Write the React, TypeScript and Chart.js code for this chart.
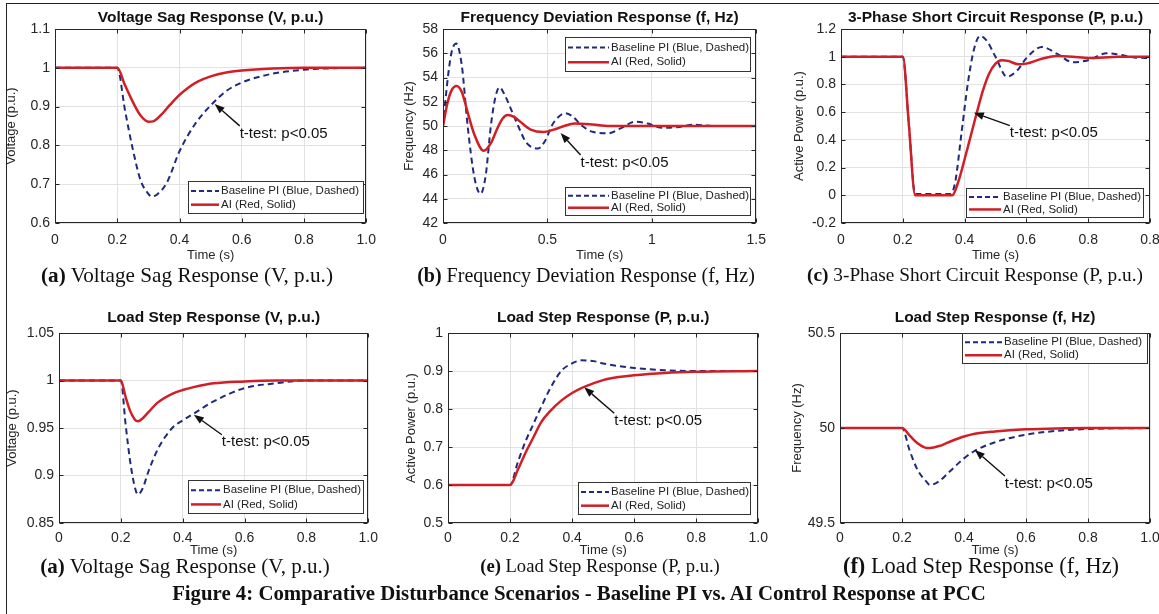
import React, { useEffect, useRef } from "react";
import { Chart, registerables } from "chart.js";
Chart.register(...registerables);

const SANS = '"Liberation Sans", Arial, Helvetica, sans-serif';
const SERIF = '"Liberation Serif", "Times New Roman", Times, serif';
const BLUE = "#1f2b7a";
const RED = "#d01f26";
const INK = "#262626";

// ---------- (a) Voltage sag ----------
const tBlueA = [0, 0.2, 0.225, 0.25, 0.275, 0.3, 0.31, 0.33, 0.36, 0.4, 0.45, 0.5, 0.55, 0.6, 0.7, 0.8, 0.9, 1.0];
const blueA = [1, 1, 0.89, 0.79, 0.71, 0.675, 0.668, 0.675, 0.705, 0.785, 0.855, 0.903, 0.94, 0.962, 0.985, 0.995, 0.999, 1];
const tRedA = [0, 0.2, 0.225, 0.25, 0.275, 0.3, 0.315, 0.34, 0.37, 0.4, 0.43, 0.46, 0.5, 0.55, 0.6, 0.7, 0.8, 1.0];
const redA = [1, 1, 0.955, 0.912, 0.877, 0.861, 0.862, 0.878, 0.905, 0.93, 0.95, 0.965, 0.978, 0.988, 0.993, 0.998, 1, 1];

// ---------- (b) Frequency deviation ----------
const tBlueB = [0, 0.02, 0.04, 0.063, 0.09, 0.118, 0.15, 0.18, 0.205, 0.229, 0.25, 0.27, 0.3, 0.33, 0.36, 0.4, 0.455, 0.49, 0.52, 0.55, 0.585, 0.62, 0.66, 0.72, 0.79, 0.85, 0.92, 0.98, 1.05, 1.12, 1.2, 1.3, 1.5];
const blueB = [50, 53.5, 56.0, 56.8, 55.0, 50.0, 45.8, 44.4, 46.0, 50.0, 52.3, 53.2, 52.4, 51.2, 50.0, 48.6, 48.15, 48.8, 50.0, 50.7, 51.05, 50.8, 50.1, 49.5, 49.4, 49.8, 50.35, 50.2, 49.85, 49.9, 50.1, 50.0, 50.0];
const tRedB = [0, 0.02, 0.04, 0.065, 0.09, 0.12, 0.15, 0.195, 0.23, 0.26, 0.285, 0.31, 0.34, 0.38, 0.42, 0.48, 0.53, 0.58, 0.63, 0.7, 0.8, 0.9, 1.0, 1.5];
const redB = [50, 51.8, 52.9, 53.3, 52.8, 51.0, 49.3, 47.95, 48.6, 49.8, 50.6, 50.9, 50.75, 50.2, 49.7, 49.5, 49.7, 50.0, 50.2, 50.15, 50.0, 50.0, 50.0, 50.0];

// ---------- (c) 3-phase short circuit ----------
const tBlueC = [0, 0.2, 0.22, 0.24, 0.3, 0.355, 0.37, 0.39, 0.41, 0.43, 0.45, 0.47, 0.5, 0.537, 0.57, 0.6, 0.65, 0.7, 0.75, 0.8, 0.86, 0.9, 0.95, 1.0];
const blueC = [1, 1, 0.5, 0.01, 0.01, 0.01, 0.1, 0.45, 0.8, 1.05, 1.15, 1.12, 1.0, 0.855, 0.9, 0.99, 1.07, 1.02, 0.96, 0.975, 1.025, 1.015, 0.995, 0.99];
const tRedC = [0, 0.2, 0.22, 0.24, 0.3, 0.36, 0.38, 0.4, 0.42, 0.44, 0.46, 0.48, 0.5, 0.52, 0.54, 0.575, 0.6, 0.65, 0.7, 0.75, 0.8, 0.9, 1.0];
const redC = [1, 1, 0.5, 0, 0, 0, 0.1, 0.26, 0.43, 0.6, 0.76, 0.88, 0.95, 0.975, 0.97, 0.945, 0.95, 0.985, 1.005, 1.0, 0.99, 1.0, 1.0];

// ---------- (d) Load step, voltage ----------
const tD = [0, 0.2, 0.215, 0.23, 0.245, 0.255, 0.27, 0.29, 0.32, 0.366, 0.4, 0.435, 0.5, 0.6, 0.7, 0.8, 1.0];
const blueD = [1, 1, 0.955, 0.915, 0.888, 0.88, 0.886, 0.905, 0.928, 0.95, 0.958, 0.965, 0.978, 0.992, 0.997, 1.0, 1.0];
const redD = [1, 1, 0.983, 0.968, 0.959, 0.957, 0.96, 0.967, 0.977, 0.986, 0.99, 0.993, 0.997, 0.999, 1.0, 1.0, 1.0];

// ---------- (e) Load step, active power ----------
const tE = [0, 0.2, 0.225, 0.25, 0.275, 0.3, 0.33, 0.365, 0.4, 0.43, 0.47, 0.5, 0.55, 0.6, 0.7, 0.8, 1.0];
const blueE = [0.6, 0.6, 0.66, 0.715, 0.76, 0.805, 0.855, 0.9, 0.92, 0.928, 0.926, 0.92, 0.913, 0.908, 0.902, 0.9, 0.9];
const redE = [0.6, 0.6, 0.64, 0.685, 0.725, 0.765, 0.795, 0.822, 0.842, 0.855, 0.868, 0.876, 0.884, 0.889, 0.895, 0.898, 0.9];

// ---------- (f) Load step, frequency ----------
const tF = [0, 0.2, 0.225, 0.25, 0.28, 0.29, 0.32, 0.35, 0.4, 0.435, 0.5, 0.6, 0.7, 0.8, 1.0];
const blueF = [50, 50, 49.88, 49.78, 49.715, 49.7, 49.72, 49.765, 49.84, 49.88, 49.925, 49.965, 49.985, 49.995, 50];
const redF = [50, 50, 49.96, 49.92, 49.895, 49.895, 49.905, 49.925, 49.955, 49.97, 49.982, 49.993, 49.998, 50, 50];

// ---------- ticks ----------
const xTicks01 = [0, 0.2, 0.4, 0.6, 0.8, 1.0];
const xLabels01 = ["0", "0.2", "0.4", "0.6", "0.8", "1.0"];
const xLabelsC = ["0", "0.2", "0.4", "0.6", "0.8", "0.8"];
const xTicksB = [0, 0.5, 1, 1.5];
const xLabelsB = ["0", "0.5", "1", "1.5"];
const yTicksA = [0.6, 0.7, 0.8, 0.9, 1.0, 1.1];
const yLabelsA = ["0.6", "0.7", "0.8", "0.9", "1", "1.1"];
const yTicksB = [42, 44, 46, 48, 50, 52, 54, 56, 58];
const yLabelsB = ["42", "44", "46", "48", "50", "52", "54", "56", "58"];
const yTicksC = [-0.2, 0, 0.2, 0.4, 0.6, 0.8, 1.0, 1.2];
const yLabelsC = ["-0.2", "0", "0.2", "0.4", "0.6", "0.8", "1", "1.2"];
const yTicksD = [0.85, 0.9, 0.95, 1.0, 1.05];
const yLabelsD = ["0.85", "0.9", "0.95", "1", "1.05"];
const yTicksE = [0.5, 0.6, 0.7, 0.8, 0.9, 1.0];
const yLabelsE = ["0.5", "0.6", "0.7", "0.8", "0.9", "1"];
const yTicksF = [49.5, 50, 50.5];
const yLabelsF = ["49.5", "50", "50.5"];

const LEGEND_BLUE = "Baseline PI (Blue, Dashed)";
const LEGEND_RED = "AI (Red, Solid)";
const ANNOT_TEXT = "t-test: p<0.05";

type Legend = { x: number; y: number; w: number; h: number; s: number };
type Panel = {
  key: string;
  title: string;
  yTitle: string;
  tBlue: number[];
  blue: number[];
  tRed: number[];
  red: number[];
  xMin: number;
  xMax: number;
  xTicks: number[];
  xLabels: string[];
  yMin: number;
  yMax: number;
  yTicks: number[];
  yLabels: string[];
  canvas: { left: number; top: number; w: number; h: number };
  area: { l: number; t: number; r: number; b: number };
  yScaleLeft: number;
  xHeight: number;
  xTickPad: number;
  titleY: number;
  legends: Legend[];
  annot: { t: number; v: number; dx: number; dy: number };
};

const panels: Panel[] = [
  {
    key: "a", title: "Voltage Sag Response (V, p.u.)", yTitle: "Voltage (p.u.)",
    tBlue: tBlueA, blue: blueA, tRed: tRedA, red: redA,
    xMin: 0, xMax: 1, xTicks: xTicks01, xLabels: xLabels01,
    yMin: 0.6, yMax: 1.1, yTicks: yTicksA, yLabels: yLabelsA,
    canvas: { left: 0, top: 0, w: 385, h: 268 }, area: { l: 55, t: 29, r: 371, b: 223 },
    yScaleLeft: 4, xHeight: 42, xTickPad: 9, titleY: 18,
    legends: [{ x: 188, y: 181, w: 175, h: 32, s: 28 }],
    annot: { t: 0.513, v: 0.907, dx: 25, dy: 22 },
  },
  {
    key: "b", title: "Frequency Deviation Response (f, Hz)", yTitle: "Frequency (Hz)",
    tBlue: tBlueB, blue: blueB, tRed: tRedB, red: redB,
    xMin: 0, xMax: 1.5, xTicks: xTicksB, xLabels: xLabelsB,
    yMin: 42, yMax: 58, yTicks: yTicksB, yLabels: yLabelsB,
    canvas: { left: 385, top: 0, w: 390, h: 268 }, area: { l: 443, t: 29, r: 760, b: 223 },
    yScaleLeft: 402, xHeight: 42, xTickPad: 9, titleY: 18,
    legends: [
      { x: 565, y: 37, w: 185, h: 34, s: 41 },
      { x: 565, y: 187, w: 185, h: 28, s: 41 },
    ],
    annot: { t: 0.563, v: 49.42, dx: 20, dy: 22 },
  },
  {
    key: "c", title: "3-Phase Short Circuit Response (P, p.u.)", yTitle: "Active Power (p.u.)",
    tBlue: tBlueC, blue: blueC, tRed: tRedC, red: redC,
    xMin: 0, xMax: 1, xTicks: xTicks01, xLabels: xLabelsC,
    yMin: -0.2, yMax: 1.2, yTicks: yTicksC, yLabels: yLabelsC,
    canvas: { left: 775, top: 0, w: 405, h: 268 }, area: { l: 841, t: 29, r: 1150, b: 223 },
    yScaleLeft: 792, xHeight: 42, xTickPad: 9, titleY: 18,
    legends: [{ x: 966, y: 188, w: 177, h: 29, s: 32 }],
    annot: { t: 0.43, v: 0.596, dx: 36, dy: 13 },
  },
  {
    key: "d", title: "Load Step Response (V, p.u.)", yTitle: "Voltage (p.u.)",
    tBlue: tD, blue: blueD, tRed: tD, red: redD,
    xMin: 0, xMax: 1, xTicks: xTicks01, xLabels: xLabels01,
    yMin: 0.85, yMax: 1.05, yTicks: yTicksD, yLabels: yLabelsD,
    canvas: { left: 0, top: 296, w: 385, h: 266 }, area: { l: 59, t: 333, r: 371, b: 523 },
    yScaleLeft: 5, xHeight: 37, xTickPad: 7, titleY: 318,
    legends: [{ x: 188, y: 480, w: 175, h: 33, s: 30 }],
    annot: { t: 0.436, v: 0.964, dx: 28, dy: 20 },
  },
  {
    key: "e", title: "Load Step Response (P, p.u.)", yTitle: "Active Power (p.u.)",
    tBlue: tE, blue: blueE, tRed: tE, red: redE,
    xMin: 0, xMax: 1, xTicks: xTicks01, xLabels: xLabels01,
    yMin: 0.5, yMax: 1.0, yTicks: yTicksE, yLabels: yLabelsE,
    canvas: { left: 385, top: 296, w: 390, h: 266 }, area: { l: 448, t: 333, r: 760, b: 523 },
    yScaleLeft: 404, xHeight: 37, xTickPad: 7, titleY: 318,
    legends: [{ x: 578, y: 482, w: 172, h: 32, s: 28 }],
    annot: { t: 0.439, v: 0.857, dx: 30, dy: 26 },
  },
  {
    key: "f", title: "Load Step Response (f, Hz)", yTitle: "Frequency (Hz)",
    tBlue: tF, blue: blueF, tRed: tF, red: redF,
    xMin: 0, xMax: 1, xTicks: xTicks01, xLabels: xLabels01,
    yMin: 49.5, yMax: 50.5, yTicks: yTicksF, yLabels: yLabelsF,
    canvas: { left: 775, top: 296, w: 405, h: 266 }, area: { l: 840, t: 333, r: 1150, b: 523 },
    yScaleLeft: 790, xHeight: 37, xTickPad: 7, titleY: 318,
    legends: [{ x: 962, y: 333, w: 185, h: 30, s: 37 }],
    annot: { t: 0.435, v: 49.884, dx: 30, dy: 26 },
  },
];

const captions = [
  { tag: "(a)", text: " Voltage Sag Response (V, p.u.)", x: 187, y: 275, size: 21.2 },
  { tag: "(b)", text: " Frequency Deviation Response (f, Hz)", x: 586, y: 275, size: 20 },
  { tag: "(c)", text: " 3-Phase Short Circuit Response (P, p.u.)", x: 975, y: 275, size: 19.3 },
  { tag: "(a)", text: " Voltage Sag Response (V, p.u.)", x: 185, y: 566, size: 21 },
  { tag: "(e)", text: " Load Step Response (P, p.u.)", x: 600, y: 566, size: 18.6 },
  { tag: "(f)", text: " Load Step Response (f, Hz)", x: 981, y: 566, size: 22.4 },
];
const FIG_TITLE = "Figure 4: Comparative Disturbance Scenarios - Baseline PI vs. AI Control Response at PCC";

function PanelChart({ p }: { p: Panel }) {
  const ref = useRef<HTMLCanvasElement>(null);
  useEffect(() => {
    const c = ref.current!;
    const ox = p.canvas.left;
    const oy = p.canvas.top;
    const padLeft = p.yScaleLeft - ox;
    const yWidth = p.area.l - p.yScaleLeft;
    const padRight = ox + p.canvas.w - p.area.r;
    const padTop = p.area.t - oy;
    const padBottom = oy + p.canvas.h - (p.area.b + p.xHeight);

    const decor = {
      id: "decor_" + p.key,
      afterDraw(chart: any) {
        const ctx: CanvasRenderingContext2D = chart.ctx;
        const { left, top, right, bottom } = chart.chartArea;
        const xs = chart.scales.x;
        const ys = chart.scales.y;
        ctx.save();
        // axes box
        ctx.strokeStyle = INK;
        ctx.lineWidth = 1;
        const L = Math.round(left) + 0.5, T = Math.round(top) + 0.5;
        const R = Math.round(right) - 0.5, B = Math.round(bottom) - 0.5;
        ctx.strokeRect(L, T, R - L, B - T);
        // inward ticks
        ctx.beginPath();
        p.xTicks.forEach((v) => {
          const x = Math.round(xs.getPixelForValue(v)) + 0.5;
          ctx.moveTo(x, B); ctx.lineTo(x, B - 4);
          ctx.moveTo(x, T); ctx.lineTo(x, T + 4);
        });
        p.yTicks.forEach((v) => {
          const y = Math.round(ys.getPixelForValue(v)) + 0.5;
          ctx.moveTo(L, y); ctx.lineTo(L + 4, y);
          ctx.moveTo(R, y); ctx.lineTo(R - 4, y);
        });
        ctx.stroke();
        // title
        ctx.fillStyle = "#111";
        ctx.font = `bold 15.5px ${SANS}`;
        ctx.textAlign = "center";
        ctx.textBaseline = "middle";
        ctx.fillText(p.title, (left + right) / 2, p.titleY - oy);
        // annotation arrow
        const tx = xs.getPixelForValue(p.annot.t);
        const ty = ys.getPixelForValue(p.annot.v);
        const sx = tx + p.annot.dx;
        const sy = ty + p.annot.dy;
        const ang = Math.atan2(ty - sy, tx - sx);
        const AL = 10, AW = 3.8;
        const bx = tx - AL * Math.cos(ang);
        const by = ty - AL * Math.sin(ang);
        ctx.strokeStyle = "#111";
        ctx.lineWidth = 1.4;
        ctx.beginPath();
        ctx.moveTo(sx, sy);
        ctx.lineTo(bx, by);
        ctx.stroke();
        ctx.fillStyle = "#111";
        ctx.beginPath();
        ctx.moveTo(tx, ty);
        ctx.lineTo(bx + AW * Math.sin(ang), by - AW * Math.cos(ang));
        ctx.lineTo(bx - AW * Math.sin(ang), by + AW * Math.cos(ang));
        ctx.closePath();
        ctx.fill();
        ctx.font = `15px ${SANS}`;
        ctx.textAlign = "left";
        ctx.textBaseline = "middle";
        ctx.fillText(ANNOT_TEXT, sx, sy + 7.5);
        // legends
        p.legends.forEach((lg) => {
          const x = lg.x - ox, y = lg.y - oy;
          ctx.fillStyle = "#fff";
          ctx.fillRect(x, y, lg.w, lg.h);
          ctx.strokeStyle = "#333";
          ctx.lineWidth = 1;
          ctx.setLineDash([]);
          ctx.strokeRect(Math.round(x) + 0.5, Math.round(y) + 0.5, lg.w, lg.h);
          const r1 = y + lg.h * 0.31, r2 = y + lg.h * 0.74;
          const x0 = x + 3, x1 = x + 3 + lg.s;
          ctx.strokeStyle = BLUE;
          ctx.lineWidth = 2;
          ctx.setLineDash([5, 3]);
          ctx.beginPath(); ctx.moveTo(x0, r1); ctx.lineTo(x1, r1); ctx.stroke();
          ctx.setLineDash([]);
          ctx.strokeStyle = RED;
          ctx.lineWidth = 2.5;
          ctx.beginPath(); ctx.moveTo(x0, r2); ctx.lineTo(x1, r2); ctx.stroke();
          ctx.fillStyle = "#222";
          ctx.font = `11.5px ${SANS}`;
          ctx.textAlign = "left";
          ctx.textBaseline = "middle";
          ctx.fillText(LEGEND_BLUE, x1 + 2, r1);
          ctx.fillText(LEGEND_RED, x1 + 2, r2);
        });
        ctx.restore();
      },
    };

    const chart = new Chart(c, {
      type: "line",
      data: {
        datasets: [
          {
            label: LEGEND_RED,
            data: p.tRed.map((x, i) => ({ x, y: p.red[i] })),
            borderColor: RED,
            borderWidth: 2.5,
            pointRadius: 0,
            cubicInterpolationMode: "monotone",
            fill: false,
            order: 1,
          },
          {
            label: LEGEND_BLUE,
            data: p.tBlue.map((x, i) => ({ x, y: p.blue[i] })),
            borderColor: BLUE,
            borderWidth: 2,
            borderDash: [6, 4],
            pointRadius: 0,
            cubicInterpolationMode: "monotone",
            fill: false,
            order: 2,
          },
        ],
      },
      options: {
        animation: false,
        responsive: false,
        maintainAspectRatio: false,
        devicePixelRatio: 1,
        events: [],
        layout: { padding: { left: padLeft, right: padRight, top: padTop, bottom: padBottom } },
        plugins: { legend: { display: false }, tooltip: { enabled: false }, title: { display: false } },
        scales: {
          x: {
            type: "linear",
            min: p.xMin,
            max: p.xMax,
            afterBuildTicks: (s: any) => { s.ticks = p.xTicks.map((v) => ({ value: v })); },
            afterFit: (s: any) => { s.height = p.xHeight; },
            ticks: {
              autoSkip: false, maxRotation: 0, padding: p.xTickPad, color: INK,
              font: { family: SANS, size: 14 },
              callback: (_v: any, i: number) => p.xLabels[i],
            },
            grid: { color: "#e2e2e2", drawTicks: false, lineWidth: 1 },
            border: { display: false },
            title: { display: true, text: "Time (s)", color: INK, font: { family: SANS, size: 13 }, padding: { top: 0, bottom: 2 } },
          },
          y: {
            type: "linear",
            min: p.yMin,
            max: p.yMax,
            afterBuildTicks: (s: any) => { s.ticks = p.yTicks.map((v) => ({ value: v })); },
            afterFit: (s: any) => { s.width = yWidth; },
            ticks: {
              autoSkip: false, padding: 5, color: INK,
              font: { family: SANS, size: 14 },
              callback: (_v: any, i: number) => p.yLabels[i],
            },
            grid: { color: "#e2e2e2", drawTicks: false, lineWidth: 1 },
            border: { display: false },
            title: { display: true, text: p.yTitle, color: INK, font: { family: SANS, size: 13 }, padding: { top: 0, bottom: 0 } },
          },
        },
      },
      plugins: [decor],
    } as any);
    return () => chart.destroy();
  }, [p]);
  return (
    <canvas
      ref={ref}
      width={p.canvas.w}
      height={p.canvas.h}
      style={{ position: "absolute", left: p.canvas.left, top: p.canvas.top, width: p.canvas.w, height: p.canvas.h }}
    />
  );
}

export default function App() {
  return (
    <div
      style={{
        position: "fixed", left: 0, top: 0, width: 1159, height: 614,
        background: "#fff", overflow: "hidden", fontFamily: SANS,
      }}
    >
      <div
        style={{
          position: "absolute", left: 6, top: 3, width: 1300, height: 800,
          borderLeft: "1px solid #222", borderTop: "1px solid #222",
        }}
      />
      {panels.map((p) => (
        <PanelChart key={p.key} p={p} />
      ))}
      {captions.map((c, i) => (
        <div
          key={i}
          style={{
            position: "absolute", left: c.x - 250, top: c.y - 13, width: 500, height: 26,
            lineHeight: "26px", textAlign: "center", fontFamily: SERIF, fontSize: c.size, color: "#111",
            whiteSpace: "nowrap",
          }}
        >
          <b>{c.tag}</b>
          {c.text}
        </div>
      ))}
      <div
        style={{
          position: "absolute", left: 579 - 500, top: 593 - 13, width: 1000, height: 26,
          lineHeight: "26px", textAlign: "center", fontFamily: SERIF, fontSize: 20.8,
          fontWeight: "bold", color: "#111", whiteSpace: "nowrap",
        }}
      >
        {FIG_TITLE}
      </div>
    </div>
  );
}
